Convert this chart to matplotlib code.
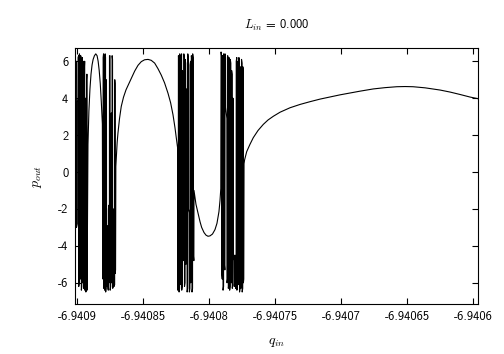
import numpy as np
import matplotlib.pyplot as plt
from matplotlib.ticker import FormatStrFormatter

plt.rcParams['mathtext.fontset'] = 'cm'
plt.rcParams['axes.unicode_minus'] = False
plt.rcParams['font.family'] = ['cmss10', 'DejaVu Sans']

# q_in / p_out samples
q_chaos1 = [-6.9409014, -6.9409013, -6.9409007, -6.9409006, -6.9409000, -6.9408999,
            -6.9408995, -6.9408994, -6.9408990, -6.9408989, -6.9408985, -6.9408984,
            -6.9408979, -6.9408978, -6.9408975, -6.9408974, -6.9408970, -6.9408969,
            -6.9408966, -6.9408965, -6.9408961, -6.9408960, -6.9408957, -6.9408956,
            -6.9408953, -6.9408952, -6.9408948, -6.9408947, -6.9408944, -6.9408943,
            -6.9408939, -6.9408938, -6.9408936, -6.9408935, -6.9408930, -6.9408929,
            -6.9408927, -6.9408926, -6.9408919]
p_chaos1 = [4.0, 5.8, 6.0, -3.0, -2.8, 3.8, 4.0, 6.2, 6.3, -6.2, -6.0, 6.4, 6.2,
            -5.8, -5.5, 6.3, 6.1, -6.4, -6.2, 5.9, 6.2, -6.0, -5.7, 6.0, 5.8, -6.3,
            -6.1, 5.5, 6.0, -6.4, -6.2, 2.0, 4.0, -6.5, -6.3, 5.0, 5.3, -6.4, 1.5]

q_bump = [-6.9408912, -6.9408904, -6.9408896, -6.9408888, -6.9408880, -6.9408870,
          -6.9408860, -6.9408850, -6.9408842, -6.9408834, -6.9408826, -6.9408818,
          -6.9408810]
p_bump = [3.3, 4.5, 5.3, 5.8, 6.1, 6.3, 6.4, 6.3, 6.0, 5.5, 4.8, 3.8, 2.6]

q_chaos2 = [-6.9408807, -6.9408805, -6.9408804, -6.9408801, -6.9408800, -6.9408798,
            -6.9408797, -6.9408794, -6.9408793, -6.9408790, -6.9408789, -6.9408786,
            -6.9408785, -6.9408782, -6.9408781, -6.9408779, -6.9408778, -6.9408776,
            -6.9408775, -6.9408769, -6.9408768, -6.9408765, -6.9408764, -6.9408761,
            -6.9408760, -6.9408757, -6.9408756, -6.9408752, -6.9408751, -6.9408747,
            -6.9408746, -6.9408742, -6.9408741, -6.9408737, -6.9408736, -6.9408733,
            -6.9408732, -6.9408726, -6.9408725, -6.9408723, -6.9408722, -6.9408717,
            -6.9408716, -6.9408714, -6.9408713, -6.9408710]
p_chaos2 = [-5.5, -5.8, 6.2, 6.4, -6.3, -6.1, 6.3, 6.0, -6.4, -6.2, 6.4, 6.2, -6.5,
            -6.3, 5.0, 4.6, -6.2, -6.0, -2.9, -3.1, -6.3, -6.4, -2.0, -1.8, -6.0,
            -5.8, 6.3, 6.3, -6.4, -6.2, 3.0, 3.2, -6.0, -5.8, 6.3, 6.1, -6.3, -6.2,
            -2.0, -2.2, -6.2, -6.1, 5.0, 4.8, -5.5, -5.3]

q_hump = [-6.9408708, -6.9408703, -6.9408698, -6.9408692, -6.9408680, -6.9408667,
          -6.9408650, -6.9408631, -6.9408612, -6.9408589, -6.9408565, -6.9408540,
          -6.9408515, -6.9408490, -6.9408464, -6.9408440, -6.9408414, -6.9408389,
          -6.9408364, -6.9408339, -6.9408313, -6.9408293, -6.9408275, -6.9408260,
          -6.9408248, -6.9408240]
p_hump = [0.3, 1.0, 1.6, 2.1, 2.9, 3.55, 4.05, 4.45, 4.75, 5.1, 5.47, 5.78, 5.98,
          6.08, 6.1, 6.05, 5.9, 5.6, 5.25, 4.83, 4.27, 3.75, 3.1, 2.4, 1.75, 1.3]

q_chaos3 = [-6.9408239, -6.9408235, -6.9408234, -6.9408230, -6.9408229, -6.9408225,
            -6.9408224, -6.9408220, -6.9408219, -6.9408215, -6.9408214, -6.9408210,
            -6.9408209, -6.9408205, -6.9408204, -6.9408200, -6.9408199, -6.9408194,
            -6.9408193, -6.9408189, -6.9408188, -6.9408184, -6.9408183, -6.9408179,
            -6.9408178, -6.9408174, -6.9408173, -6.9408169, -6.9408168, -6.9408164,
            -6.9408163, -6.9408159, -6.9408158, -6.9408152, -6.9408151, -6.9408147,
            -6.9408146, -6.9408142, -6.9408141, -6.9408137, -6.9408136, -6.9408132,
            -6.9408131, -6.9408127, -6.9408126, -6.9408122, -6.9408121, -6.9408117,
            -6.9408116]
p_chaos3 = [-6.4, -6.2, 6.3, 6.1, -6.5, -6.3, 6.4, 6.2, -5.9, -6.1, 6.2, 6.4, -6.4,
            -6.2, 5.5, 5.3, -4.5, -4.8, 6.4, 6.2, -6.2, -6.0, 6.1, 5.9, -5.0, -4.8,
            4.5, 4.2, -6.5, -6.3, 6.4, 6.2, -2.0, -2.2, -6.5, -6.3, 5.8, 6.0, -6.0,
            -5.8, 6.3, 6.1, -6.5, -6.3, 6.4, 6.2, -4.5, -4.8, -1.0]

q_dip = [-6.9408112, -6.9408101, -6.9408083, -6.9408070, -6.9408058, -6.9408040,
         -6.9408025, -6.9408010, -6.9407995, -6.9407976, -6.9407957, -6.9407942,
         -6.9407927, -6.9407919, -6.9407913]
p_dip = [-1.2, -1.75, -2.3, -2.7, -3.0, -3.28, -3.42, -3.48, -3.46, -3.36, -3.12,
         -2.78, -2.15, -1.55, -0.9]

q_chaos4 = [-6.9407911, -6.9407907, -6.9407906, -6.9407902, -6.9407901, -6.9407897,
            -6.9407896, -6.9407892, -6.9407891, -6.9407887, -6.9407886, -6.9407882,
            -6.9407881, -6.9407877, -6.9407876, -6.9407867, -6.9407866, -6.9407862,
            -6.9407861, -6.9407857, -6.9407856, -6.9407852, -6.9407851, -6.9407847,
            -6.9407846, -6.9407842, -6.9407841, -6.9407837, -6.9407836, -6.9407832,
            -6.9407831, -6.9407827, -6.9407826, -6.9407822, -6.9407821, -6.9407818,
            -6.9407817, -6.9407812, -6.9407811, -6.9407807, -6.9407806, -6.9407802,
            -6.9407801, -6.9407797, -6.9407796, -6.9407792, -6.9407791, -6.9407787,
            -6.9407786, -6.9407782, -6.9407781, -6.9407777, -6.9407776, -6.9407772,
            -6.9407771, -6.9407767, -6.9407766, -6.9407762, -6.9407761, -6.9407757,
            -6.9407756, -6.9407752, -6.9407751, -6.9407747, -6.9407746, -6.9407743,
            -6.9407742, -6.9407739]
p_chaos4 = [6.5, 6.3, -5.5, -5.8, 6.3, 6.1, -6.4, -6.2, 6.4, 6.2, -5.0, -5.3, 6.4,
            6.2, 3.5, 2.9, -6.0, -5.8, 6.3, 6.1, -6.3, -6.1, 6.2, 6.0, -6.4, -6.2,
            6.1, 5.9, -5.8, -6.0, 5.5, 5.3, -6.3, -6.1, 4.0, 3.8, -4.6, -4.8, -6.2,
            -5.9, -4.5, -4.7, -6.3, -6.1, 6.0, 6.2, -6.4, -6.2, 5.8, 6.0, -5.9, -6.1,
            6.2, 6.0, -6.5, -6.3, 5.5, 5.7, -6.3, -6.1, 6.1, 5.9, -6.5, -6.3, 5.7,
            5.5, -6.0, -5.8]

q_tail = [-6.9407737, -6.9407733, -6.9407717, -6.9407692, -6.9407667, -6.9407631,
          -6.9407591, -6.9407555, -6.9407515, -6.9407464, -6.9407389, -6.9407313,
          -6.9407237, -6.9407161, -6.9407010, -6.9406858, -6.9406758, -6.9406669,
          -6.9406580, -6.9406517, -6.9406457, -6.9406366, -6.9406252, -6.9406176,
          -6.9406101, -6.9406025, -6.9405964]
p_tail = [0.45, 0.65, 1.1, 1.5, 1.86, 2.25, 2.58, 2.82, 3.02, 3.24, 3.48, 3.66, 3.81,
          3.95, 4.18, 4.38, 4.5, 4.57, 4.62, 4.63, 4.62, 4.56, 4.44, 4.33, 4.2,
          4.06, 3.97]

x_ticks = [-6.9409, -6.94085, -6.9408, -6.94075, -6.9407, -6.94065, -6.9406]
y_ticks = [-6, -4, -2, 0, 2, 4, 6]

q = np.concatenate([q_chaos1, q_bump, q_chaos2, q_hump, q_chaos3, q_dip, q_chaos4, q_tail])
p = np.concatenate([p_chaos1, p_bump, p_chaos2, p_hump, p_chaos3, p_dip, p_chaos4, p_tail])

fig = plt.figure(figsize=(5.04, 3.54), dpi=100)
ax = fig.add_axes([0.1494, 0.1412, 0.7990, 0.7223])
ax.plot(q, p, color='black', linewidth=0.8)

ax.set_xlim(-6.9409015, -6.9405965)
ax.set_ylim(-7.15, 6.7)
ax.set_xticks(x_ticks)
ax.set_yticks(y_ticks)
ax.xaxis.set_major_formatter(FormatStrFormatter('%g'))
ax.yaxis.set_major_formatter(FormatStrFormatter('%g'))
ax.tick_params(direction='in', top=True, right=True, length=4, width=0.8,
               labelsize=9, pad=5)
for s in ax.spines.values():
    s.set_linewidth(0.8)

ax.set_xlabel('$q_{in}$', fontsize=10, labelpad=9)
ax.set_ylabel('$p_{out}$', fontsize=10, labelpad=10)
ax.set_title('$L_{in}$ = 0.000', fontsize=9, pad=14)

fig.savefig('out.png', dpi=100)
